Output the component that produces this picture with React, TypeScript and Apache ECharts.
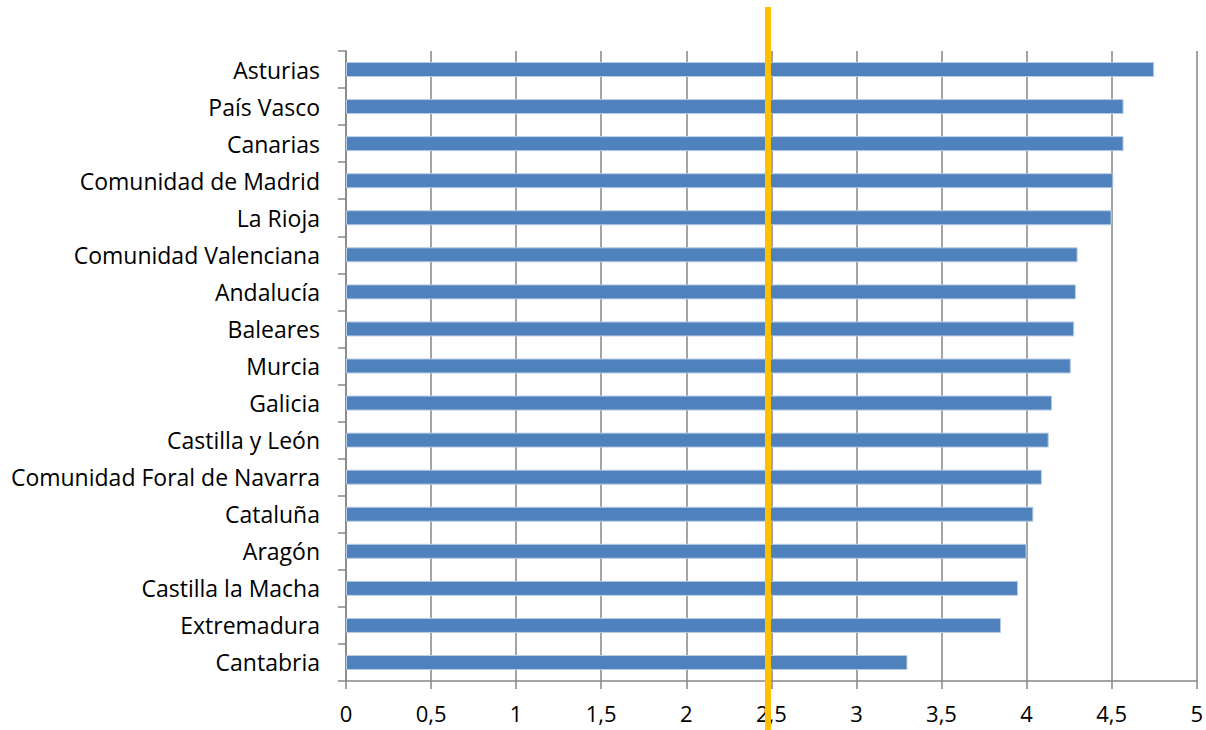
import React, { useEffect, useRef } from "react";
import * as echarts from "echarts";

const regions = [
  "Asturias",
  "País Vasco",
  "Canarias",
  "Comunidad de Madrid",
  "La Rioja",
  "Comunidad Valenciana",
  "Andalucía",
  "Baleares",
  "Murcia",
  "Galicia",
  "Castilla y León",
  "Comunidad Foral de Navarra",
  "Cataluña",
  "Aragón",
  "Castilla la Macha",
  "Extremadura",
  "Cantabria",
];
const values = [4.75, 4.57, 4.57, 4.51, 4.5, 4.3, 4.29, 4.28, 4.26, 4.15, 4.13, 4.09, 4.04, 4.0, 3.95, 3.85, 3.3];
const referenceValue = 2.48;
const xMin = 0;
const xMax = 5;
const xStep = 0.5;

const FONT = "'Open Sans', 'Noto Sans', sans-serif";

export default function App() {
  const ref = useRef<HTMLDivElement>(null);
  useEffect(() => {
    if (!ref.current) return;
    const chart = echarts.init(ref.current, null, { renderer: "svg" });
    chart.setOption({
      animation: false,
      backgroundColor: "#ffffff",
      grid: { left: 346, right: 9, top: 51, bottom: 49, containLabel: false },
      xAxis: {
        type: "value",
        min: xMin,
        max: xMax,
        interval: xStep,
        axisLine: { show: true, lineStyle: { color: "#868686", width: 1.5 } },
        axisTick: { show: true, length: 8, lineStyle: { color: "#868686", width: 1.5 } },
        splitLine: { show: true, lineStyle: { color: "#868686", width: 1.5 } },
        axisLabel: {
          color: "#000",
          fontSize: 22,
          fontFamily: FONT,
          margin: 21,
          formatter: (v: number) => String(v).replace(".", ","),
        },
      },
      yAxis: {
        type: "category",
        data: regions,
        inverse: true,
        axisLine: { show: true, lineStyle: { color: "#868686", width: 1.5 } },
        axisTick: { show: true, length: 8, lineStyle: { color: "#868686", width: 1.5 } },
        axisLabel: { color: "#000", fontSize: 23, fontFamily: FONT, margin: 26 },
        splitLine: { show: false },
      },
      series: [
        {
          type: "bar",
          data: values,
          barWidth: 15,
          itemStyle: { color: "#4F81BD", borderColor: "#B9CDE5", borderWidth: 1 },
        },
      ],
    });
    const x = chart.convertToPixel({ xAxisIndex: 0 }, referenceValue) as number;
    chart.setOption({
      graphic: [
        {
          type: "line",
          shape: { x1: x, y1: 7, x2: x, y2: 730 },
          style: { stroke: "#FFC000", lineWidth: 6 },
          z: 100,
        },
      ],
    });
    return () => chart.dispose();
  }, []);
  return <div ref={ref} style={{ width: 1206, height: 730, position: "absolute", left: 0, top: 0 }} />;
}
